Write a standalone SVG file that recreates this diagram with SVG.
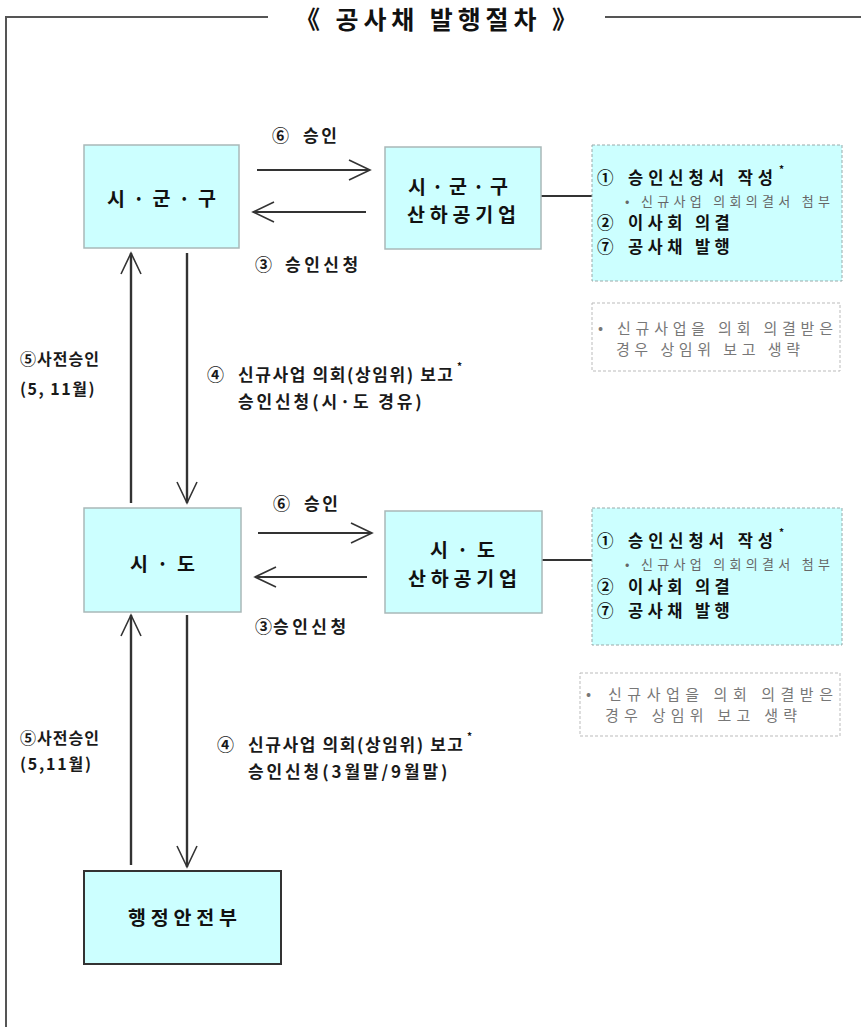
<svg xmlns="http://www.w3.org/2000/svg" width="861" height="1027" viewBox="0 0 861 1027">
<defs>
<style>
text{font-family:"Noto Sans CJK KR","Noto Sans",sans-serif;font-weight:bold;fill:#111;dominant-baseline:central}
.t{font-size:25px}
.b{font-size:19.5px}
.l{font-size:17px;fill:#1a1a1a}
.p{font-size:16px;fill:#1a1a1a}
.m{font-size:16.5px}
.s{font-size:13px;fill:#666;font-weight:normal}
.n{font-size:15px;fill:#777;font-weight:normal}
.ast{font-size:10px}
.box{fill:#ccffff;stroke:#a9b8b8;stroke-width:1.5}
.boxd{fill:#ccffff;stroke:#333;stroke-width:2}
.rbox{fill:#ccffff;stroke:#9aa;stroke-width:1;stroke-dasharray:3 2}
.note{fill:#fff;stroke:#bbb;stroke-width:1;stroke-dasharray:3 2}
.c{stroke:#333;fill:none}
.h{stroke-width:1.8}
.v{stroke-width:2.4}
.frame{stroke:#555;stroke-width:2;fill:none}
</style>
<marker id="ah" markerUnits="userSpaceOnUse" markerWidth="26" markerHeight="24" refX="22" refY="11" orient="auto">
<path d="M1,1 L22,11 L1,21" fill="none" stroke="#333" stroke-width="1.6"/>
</marker>
</defs>

<g id="frame">
<path class="frame" d="M6,1027 V17 H268 M605,17 H861"/>
<text class="t" x="295" y="18" textLength="282" lengthAdjust="spacing">《 공사채 발행절차 》</text>
</g>

<g id="connectors">
<line class="c h" x1="257" y1="170" x2="370" y2="170" marker-end="url(#ah)"/>
<line class="c h" x1="366" y1="212" x2="253" y2="212" marker-end="url(#ah)"/>
<line class="c h" x1="258" y1="533" x2="372" y2="533" marker-end="url(#ah)"/>
<line class="c h" x1="367" y1="577" x2="255" y2="577" marker-end="url(#ah)"/>
<line class="c v" x1="131" y1="503" x2="131" y2="253" marker-end="url(#ah)"/>
<line class="c v" x1="187" y1="253" x2="187" y2="503" marker-end="url(#ah)"/>
<line class="c v" x1="131" y1="865" x2="131" y2="615" marker-end="url(#ah)"/>
<line class="c v" x1="187" y1="615" x2="187" y2="867" marker-end="url(#ah)"/>
<line class="c h" x1="541" y1="196" x2="592" y2="196"/>
<line class="c h" x1="542" y1="560" x2="592" y2="560"/>
</g>

<g id="labels">
<text class="l" x="272" y="134">⑥<tspan x="303" style="letter-spacing:2.5px">승인</tspan></text>
<text class="l" x="255" y="263">③<tspan x="285" style="letter-spacing:3.5px">승인신청</tspan></text>
<text class="l" x="273" y="502">⑥<tspan x="304" style="letter-spacing:2.5px">승인</tspan></text>
<text class="l" x="255" y="625">③<tspan x="273" style="letter-spacing:3.5px">승인신청</tspan></text>
<text class="p" x="20" y="358" style="letter-spacing:1px">⑤사전승인</text>
<text class="p" x="20" y="388" style="letter-spacing:1.5px">(5, 11월)</text>
<text class="p" x="20" y="737" style="letter-spacing:1px">⑤사전승인</text>
<text class="p" x="20" y="763" style="letter-spacing:1.8px">(5,11월)</text>
<text class="l" x="207" y="373">④<tspan x="238" style="letter-spacing:1.6px">신규사업 의회(상임위) 보고</tspan></text>
<text class="ast" x="457" y="365">*</text>
<text class="l" x="238" y="400" style="letter-spacing:2.9px">승인신청(시·도 경유)</text>
<text class="l" x="217" y="743">④<tspan x="248" style="letter-spacing:1.6px">신규사업 의회(상임위) 보고</tspan></text>
<text class="ast" x="467" y="735">*</text>
<text class="l" x="248" y="770" style="letter-spacing:2.9px">승인신청(3월말/9월말)</text>
</g>

<g id="sigungu">
<rect class="box" x="84" y="145" width="155" height="103"/>
<text class="b" x="107" y="197" textLength="109" lengthAdjust="spacing">시 · 군 · 구</text>
</g>

<g id="sigungu-corp">
<rect class="box" x="385" y="147" width="156" height="102"/>
<text class="b" x="408" y="185" textLength="100" lengthAdjust="spacing">시 · 군 · 구</text>
<text class="b" x="407" y="213" textLength="109" lengthAdjust="spacing">산하공기업</text>
</g>

<g id="sigungu-steps">
<rect class="rbox" x="592" y="145" width="250" height="136"/>
<text class="m" x="597" y="177">①<tspan x="628" style="letter-spacing:5px">승인신청서 작성</tspan></text>
<text class="ast" x="779" y="168">*</text>
<text class="s" x="625" y="200" textLength="205" lengthAdjust="spacing">• 신규사업 의회의결서 첨부</text>
<text class="m" x="597" y="222">②<tspan x="628" style="letter-spacing:4.4px">이사회 의결</tspan></text>
<text class="m" x="597" y="246">⑦<tspan x="628" style="letter-spacing:4.4px">공사채 발행</tspan></text>
</g>

<g id="note1">
<rect class="note" x="592" y="303" width="248" height="68"/>
<text class="n" x="598" y="326">•</text>
<text class="n" x="617" y="327" textLength="216" lengthAdjust="spacing">신규사업을 의회 의결받은</text>
<text class="n" x="616" y="348" textLength="184" lengthAdjust="spacing">경우 상임위 보고 생략</text>
</g>

<g id="sido">
<rect class="box" x="84" y="508" width="157" height="104"/>
<text class="b" x="130" y="562" textLength="65" lengthAdjust="spacing">시 · 도</text>
</g>

<g id="sido-corp">
<rect class="box" x="385" y="511" width="157" height="102"/>
<text class="b" x="430" y="548" textLength="65" lengthAdjust="spacing">시 · 도</text>
<text class="b" x="408" y="577" textLength="109" lengthAdjust="spacing">산하공기업</text>
</g>

<g id="sido-steps">
<rect class="rbox" x="592" y="508" width="250" height="137"/>
<text class="m" x="597" y="540">①<tspan x="628" style="letter-spacing:5px">승인신청서 작성</tspan></text>
<text class="ast" x="779" y="531">*</text>
<text class="s" x="625" y="563" textLength="205" lengthAdjust="spacing">• 신규사업 의회의결서 첨부</text>
<text class="m" x="597" y="586">②<tspan x="628" style="letter-spacing:4.4px">이사회 의결</tspan></text>
<text class="m" x="597" y="610">⑦<tspan x="628" style="letter-spacing:4.4px">공사채 발행</tspan></text>
</g>

<g id="note2">
<rect class="note" x="580" y="673" width="260" height="63"/>
<text class="n" x="586" y="692">•</text>
<text class="n" x="608" y="693" textLength="225" lengthAdjust="spacing">신규사업을 의회 의결받은</text>
<text class="n" x="605" y="714" textLength="192" lengthAdjust="spacing">경우 상임위 보고 생략</text>
</g>

<g id="mois">
<rect class="boxd" x="84" y="871" width="197" height="93"/>
<text class="b" x="128" y="916" textLength="109" lengthAdjust="spacing">행정안전부</text>
</g>
</svg>
